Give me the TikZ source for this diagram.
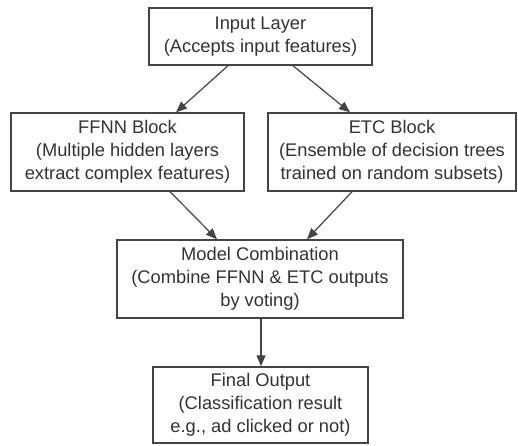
\documentclass[tikz,border=0pt]{standalone}
\usepackage{fontspec}
\setmainfont{Liberation Sans}
\usetikzlibrary{arrows.meta}
\definecolor{inkgray}{HTML}{333333}
\definecolor{linegray}{HTML}{444444}
\begin{document}
\begin{tikzpicture}[x=1pt,y=-1pt,
  block/.style={draw=linegray, line width=1.4pt, fill=white, inner sep=0pt,
    align=center, text=inkgray, font=\fontsize{18.3}{23}\selectfont},
  flow/.style={draw=linegray, line width=1.2pt,
    -{Triangle[length=11pt,width=9pt]}}]
  \useasboundingbox[fill=white] (0,0) rectangle (518,445);

  \node[block, minimum width=223pt, minimum height=57pt] (in) at (260.5,36.5)
    {Input Layer\\(Accepts input features)};
  \node[block, minimum width=233pt, minimum height=78pt] (ffnn) at (127.5,152)
    {FFNN Block\\(Multiple hidden layers\\extract complex features)};
  \node[block, minimum width=248pt, minimum height=78pt] (etc) at (392,152)
    {ETC Block\\(Ensemble of decision trees\\trained on random subsets)};
  \node[block, minimum width=286pt, minimum height=78pt] (comb) at (260,279)
    {Model Combination\\(Combine FFNN \& ETC outputs\\by voting)};
  \node[block, minimum width=215pt, minimum height=76pt] (out) at (260.5,405)
    {Final Output\\(Classification result\\e.g., ad clicked or not)};

  \draw[flow] ([xshift=-32.5pt]in.south) -- ([xshift=48.5pt]ffnn.north);
  \draw[flow] ([xshift=32.5pt]in.south) -- ([xshift=-42pt]etc.north);
  \draw[flow] ([xshift=42.5pt]ffnn.south) -- ([xshift=-43pt]comb.north);
  \draw[flow] ([xshift=-40pt]etc.south) -- ([xshift=47pt]comb.north);
  \draw[flow] ([xshift=1pt]comb.south) -- ([xshift=0.5pt]out.north);
\end{tikzpicture}
\end{document}
